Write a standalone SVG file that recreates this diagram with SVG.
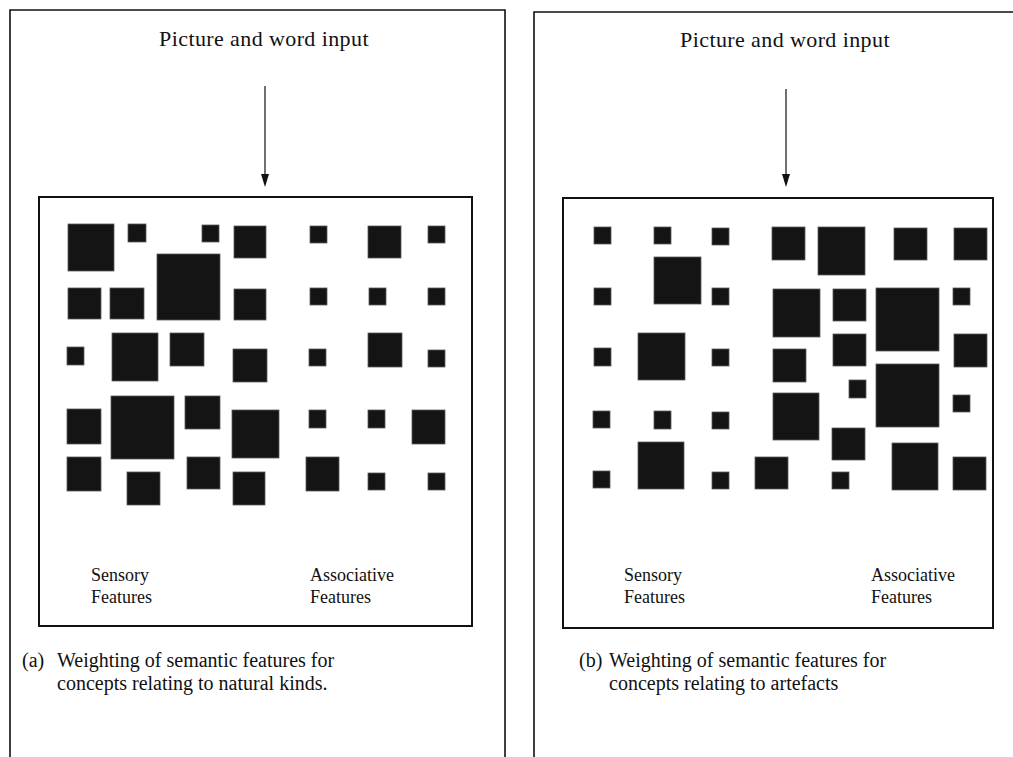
<svg xmlns="http://www.w3.org/2000/svg" width="1013" height="757" viewBox="0 0 1013 757">
<style>
.frame{fill:none;stroke:#111;stroke-width:1.6}
.box{fill:none;stroke:#111;stroke-width:2}
.sq{fill:#141414;stroke:#5a5a5a;stroke-width:0.8}
.t{font-family:"Liberation Serif",serif;fill:#111}
.title{font-size:22px;letter-spacing:0.4px}
.lab{font-size:18px}
.cap{font-size:20px}
.conn line{stroke:#111;stroke-width:1.2}
.conn polygon{fill:#111}
</style>
<rect width="1013" height="757" fill="#fff"/>
<g id="panel-a-frame"><path class="frame" d="M10,757 V10 H505 V757"/></g>
<g id="panel-b-frame"><path class="frame" d="M534,757 V12 H1013"/></g>
<g id="input-a"><text class="t title" x="264" y="46" text-anchor="middle">Picture and word input</text></g>
<g id="input-b"><text class="t title" x="785" y="47" text-anchor="middle">Picture and word input</text></g>
<g id="connectors" class="conn">
<line x1="265" y1="86" x2="265" y2="176"/><polygon points="261,174 269,174 265,187"/>
<line x1="786" y1="89" x2="786" y2="176"/><polygon points="782,174 790,174 786,187"/>
</g>
<g id="features-a">
<rect class="box" x="39" y="197" width="433" height="429"/>
<g id="squares-a">
<rect class="sq" x="68" y="224" width="46" height="47"/>
<rect class="sq" x="128" y="224" width="18" height="18"/>
<rect class="sq" x="202" y="225" width="17" height="17"/>
<rect class="sq" x="234" y="226" width="32" height="32"/>
<rect class="sq" x="310" y="226" width="17" height="17"/>
<rect class="sq" x="368" y="226" width="33" height="32"/>
<rect class="sq" x="428" y="226" width="17" height="17"/>
<rect class="sq" x="157" y="254" width="63" height="66"/>
<rect class="sq" x="68" y="288" width="33" height="31"/>
<rect class="sq" x="110" y="288" width="34" height="31"/>
<rect class="sq" x="234" y="289" width="32" height="31"/>
<rect class="sq" x="310" y="288" width="17" height="17"/>
<rect class="sq" x="369" y="288" width="17" height="17"/>
<rect class="sq" x="428" y="288" width="17" height="17"/>
<rect class="sq" x="67" y="347" width="17" height="18"/>
<rect class="sq" x="112" y="333" width="46" height="48"/>
<rect class="sq" x="170" y="333" width="34" height="33"/>
<rect class="sq" x="233" y="349" width="34" height="33"/>
<rect class="sq" x="309" y="349" width="17" height="17"/>
<rect class="sq" x="368" y="333" width="34" height="34"/>
<rect class="sq" x="428" y="350" width="17" height="17"/>
<rect class="sq" x="67" y="409" width="34" height="35"/>
<rect class="sq" x="111" y="396" width="63" height="63"/>
<rect class="sq" x="185" y="396" width="35" height="33"/>
<rect class="sq" x="232" y="410" width="47" height="48"/>
<rect class="sq" x="309" y="410" width="17" height="18"/>
<rect class="sq" x="368" y="410" width="17" height="18"/>
<rect class="sq" x="412" y="410" width="33" height="34"/>
<rect class="sq" x="67" y="457" width="34" height="34"/>
<rect class="sq" x="127" y="472" width="33" height="33"/>
<rect class="sq" x="187" y="457" width="33" height="32"/>
<rect class="sq" x="233" y="472" width="32" height="33"/>
<rect class="sq" x="306" y="457" width="33" height="34"/>
<rect class="sq" x="368" y="473" width="17" height="17"/>
<rect class="sq" x="428" y="473" width="17" height="17"/>
</g>
<text class="t lab" x="91" y="581">Sensory</text>
<text class="t lab" x="91" y="603">Features</text>
<text class="t lab" x="310" y="581">Associative</text>
<text class="t lab" x="310" y="603">Features</text>
</g>
<g id="caption-a">
<text class="t cap" x="22" y="667">(a)</text>
<text class="t cap" x="57" y="667">Weighting of semantic features for</text>
<text class="t cap" x="57" y="690">concepts relating to natural kinds.</text>
</g>
<g id="features-b">
<rect class="box" x="563" y="198" width="430" height="430"/>
<g id="squares-b">
<rect class="sq" x="594" y="227" width="17" height="17"/>
<rect class="sq" x="654" y="227" width="17" height="17"/>
<rect class="sq" x="712" y="228" width="17" height="17"/>
<rect class="sq" x="772" y="227" width="33" height="33"/>
<rect class="sq" x="818" y="227" width="47" height="48"/>
<rect class="sq" x="894" y="228" width="33" height="32"/>
<rect class="sq" x="954" y="228" width="33" height="32"/>
<rect class="sq" x="654" y="257" width="47" height="47"/>
<rect class="sq" x="594" y="288" width="17" height="17"/>
<rect class="sq" x="712" y="288" width="17" height="17"/>
<rect class="sq" x="773" y="289" width="47" height="48"/>
<rect class="sq" x="833" y="289" width="33" height="32"/>
<rect class="sq" x="876" y="288" width="63" height="63"/>
<rect class="sq" x="953" y="288" width="17" height="17"/>
<rect class="sq" x="594" y="348" width="17" height="18"/>
<rect class="sq" x="638" y="333" width="47" height="47"/>
<rect class="sq" x="712" y="349" width="17" height="17"/>
<rect class="sq" x="773" y="349" width="33" height="33"/>
<rect class="sq" x="833" y="334" width="33" height="32"/>
<rect class="sq" x="954" y="334" width="33" height="33"/>
<rect class="sq" x="849" y="380" width="17" height="18"/>
<rect class="sq" x="876" y="364" width="63" height="63"/>
<rect class="sq" x="953" y="395" width="17" height="17"/>
<rect class="sq" x="593" y="411" width="17" height="17"/>
<rect class="sq" x="654" y="411" width="17" height="18"/>
<rect class="sq" x="712" y="412" width="17" height="17"/>
<rect class="sq" x="773" y="393" width="46" height="47"/>
<rect class="sq" x="832" y="428" width="33" height="32"/>
<rect class="sq" x="593" y="471" width="17" height="17"/>
<rect class="sq" x="638" y="442" width="46" height="47"/>
<rect class="sq" x="712" y="472" width="17" height="17"/>
<rect class="sq" x="755" y="457" width="33" height="32"/>
<rect class="sq" x="832" y="472" width="17" height="17"/>
<rect class="sq" x="892" y="443" width="46" height="47"/>
<rect class="sq" x="953" y="457" width="33" height="33"/>
</g>
<text class="t lab" x="624" y="581">Sensory</text>
<text class="t lab" x="624" y="603">Features</text>
<text class="t lab" x="871" y="581">Associative</text>
<text class="t lab" x="871" y="603">Features</text>
</g>
<g id="caption-b">
<text class="t cap" x="579" y="667">(b)</text>
<text class="t cap" x="609" y="667">Weighting of semantic features for</text>
<text class="t cap" x="609" y="690">concepts relating to artefacts</text>
</g>
</svg>
